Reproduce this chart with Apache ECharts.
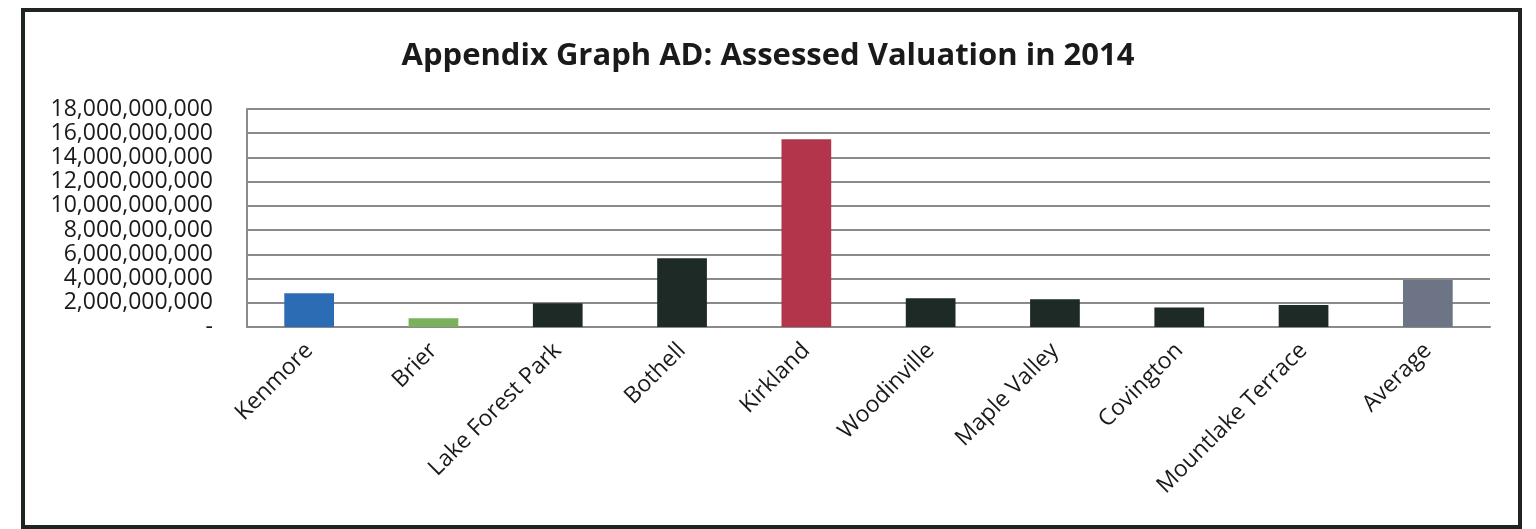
<!DOCTYPE html>
<html>
<head>
    <meta charset="UTF-8">
    <title>Assessed Valuation in 2014</title>
    <style>
        html, body {
            margin: 0;
            height: 100%;
            background-color: #FFF;
        }
    </style>
</head>
<body>
<div id="main" style="width:1536px;height:529px"></div>

<script src="https://cdn.jsdelivr.net/npm/echarts@6/dist/echarts.min.js"></script>
<script type="text/javascript">
    // data
    var cities = ['Kenmore', 'Brier', 'Lake Forest Park', 'Bothell', 'Kirkland', 'Woodinville',
        'Maple Valley', 'Covington', 'Mountlake Terrace', 'Average'];
    var valuation = [2780000000, 720000000, 1960000000, 5680000000, 15500000000, 2370000000,
        2290000000, 1600000000, 1820000000, 3880000000];
    var barColors = ['#2B6CB5', '#7CB15B', '#1E2A26', '#1E2A26', '#B3354B', '#1E2A26',
        '#1E2A26', '#1E2A26', '#1E2A26', '#6D7486'];

    var mCharts = echarts.init(document.getElementById('main'));

    //千分位格式, 0 显示为 -
    function fmt(v) {
        if (v == 0) return '-';
        return String(v).replace(/\B(?=(\d{3})+(?!\d))/g, ',');
    }

    var mOptions = {
        animation: false,
        textStyle: {fontFamily: 'Open Sans', color: '#1a1a1a'},
        title: {
            text: 'Appendix Graph AD: Assessed Valuation in 2014',
            left: 'center',
            top: 36,
            textStyle: {fontSize: 31, fontWeight: 'bold', color: '#1a1a1a', fontFamily: 'Open Sans'}
        },
        graphic: [{
            type: 'rect',
            shape: {x: 23, y: 10, width: 1497, height: 517},
            style: {fill: 'none', stroke: '#1e2421', lineWidth: 4}
        }],
        grid: {
            left: 247,
            right: 46,
            top: 109,
            bottom: 202
        },
        xAxis: {
            type: 'category',
            data: cities,
            axisTick: {show: false},
            axisLine: {lineStyle: {color: '#8a8a8a', width: 2}},
            axisLabel: {
                rotate: 45,
                margin: 20,
                fontSize: 23,
                color: '#1a1a1a',
                interval: 0
            }
        },
        yAxis: {
            type: 'value',
            min: 0,
            max: 18000000000,
            interval: 2000000000,
            axisLine: {show: true, lineStyle: {color: '#8a8a8a', width: 2}},
            axisTick: {show: false},
            splitLine: {lineStyle: {color: '#8a8a8a', width: 2}},
            axisLabel: {
                formatter: fmt,
                fontSize: 23,
                margin: 34,
                color: '#1a1a1a'
            }
        },
        series: [{
            type: 'bar',
            barWidth: '40%',
            data: valuation.map(function (v, i) {
                return {value: v, itemStyle: {color: barColors[i]}};
            })
        }]
    };

    mCharts.setOption(mOptions);
</script>
</body>
</html>
